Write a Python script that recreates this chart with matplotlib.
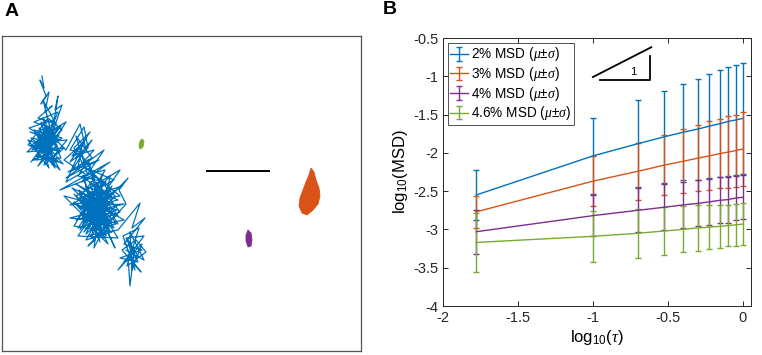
import matplotlib
matplotlib.use("Agg")
import matplotlib.pyplot as plt
import numpy as np

plt.rcParams['font.family'] = ['Liberation Sans', 'DejaVu Sans']
plt.rcParams['mathtext.fontset'] = 'custom'
plt.rcParams['mathtext.it'] = 'Liberation Serif:italic'
plt.rcParams['mathtext.rm'] = 'Liberation Sans'

# ---------------- Panel B data ----------------
log_tau = [-1.778, -1.0, -0.699, -0.523, -0.398, -0.301, -0.222, -0.155, -0.097, -0.046, 0.0]
msd_2 = [-2.55, -2.04, -1.88, -1.79, -1.73, -1.69, -1.65, -1.62, -1.59, -1.57, -1.55]
sd_2 = [0.33, 0.50, 0.57, 0.60, 0.63, 0.66, 0.68, 0.70, 0.71, 0.72, 0.73]
msd_3 = [-2.77, -2.37, -2.24, -2.16, -2.11, -2.07, -2.04, -2.01, -1.99, -1.97, -1.95]
sd_3 = [0.21, 0.33, 0.37, 0.39, 0.42, 0.43, 0.45, 0.45, 0.47, 0.47, 0.48]
msd_4 = [-3.03, -2.82, -2.75, -2.71, -2.68, -2.66, -2.64, -2.62, -2.61, -2.59, -2.58]
sd_4 = [0.29, 0.27, 0.29, 0.30, 0.30, 0.30, 0.30, 0.30, 0.30, 0.29, 0.29]
msd_46 = [-3.17, -3.09, -3.05, -3.02, -3.00, -2.98, -2.97, -2.96, -2.95, -2.94, -2.93]
sd_46 = [0.38, 0.33, 0.32, 0.31, 0.30, 0.30, 0.29, 0.28, 0.27, 0.27, 0.27]
labels = ['2% MSD ($\\mu$±$\\sigma$)', '3% MSD ($\\mu$±$\\sigma$)',
          '4% MSD ($\\mu$±$\\sigma$)', '4.6% MSD ($\\mu$±$\\sigma$)']
colors = ['#0072BD', '#D95319', '#7E2F8E', '#77AC30']

# slope-1 guide triangle
slope_x = [-1.0, -0.61]
slope_y = [-1.01, -0.62]
tri_x = [-0.95, -0.62, -0.62]
tri_y = [-1.045, -1.045, -0.74]

# ---------------- Panel A data (image units) ----------------
blue_top = [(42,76),(44,88),(40,80),(46,96),(41,104),(49,92),(45,112),(52,106),(38,118),(56,124),(43,100),
            (50,128),(34,122),(58,112),(47,138),(30,132),(60,140),(39,128),(54,150),(28,145),(48,118),(62,130),
            (36,156),(57,160),(31,138),(52,142),(44,165),(64,148),(27,152),(49,132),(40,148),(59,135),(35,142),
            (55,168),(46,126),(61,158),(33,160),(50,152),(42,136),(66,122),(38,166),(57,145),(29,128),(53,120),
            (45,155),(63,164),(37,134),(48,160),(58,96),(55,110),(62,105),(50,140),(36,146),(60,170),(44,142),
            (67,140),(52,158),(41,122),(56,136),
            (32,150),(50,125),(37,160),(58,128),(30,146),(46,150),(62,138),(34,130),(53,164),(43,118),(60,152),
            (28,140),(49,168),(39,132),(56,140),(35,150),(47,144),(61,126),(31,162),(54,132),(42,158),(58,162),
            (37,140),(51,136),(44,128)]
blue_bridge = [(66,150),(80,124),(86,150),(70,162),(90,132),(74,148),(84,166),(68,172),(92,158),(76,136),
               (88,176),(64,160),(82,144),(78,168),(94,150),(72,156),(86,138),(66,182),(90,168),(80,152)]
blue_mid = [(70,150),(84,127),(88,148),(76,158),(92,140),(72,170),(99,160),(66,178),(104,150),(82,182),(110,162),
            (60,190),(96,176),(78,200),(114,180),(86,168),(120,196),(70,205),(102,188),(90,222),(117,210),(64,196),
            (98,230),(108,198),(80,214),(122,186),(92,196),(74,226),(112,232),(86,240),(104,208),(94,185),(118,224),
            (79,190),(100,242),(88,206),(124,204),(70,218),(108,222),(96,214),(84,232),(115,196),(91,172),(106,236),
            (76,196),(120,170),(99,200),(83,222),(112,212),(94,248),(102,180),(87,190),(118,238),(78,236),(110,190),
            (96,226),(124,220),(90,200),(105,170),(82,176),(115,248),(100,215),(72,188),(108,205),(92,236),(98,192),
            (88,160),(78,176),(106,182),(84,204),(110,210),(76,220),(100,196),(92,230),(116,216),(82,196),(104,226),
            (94,206),(118,200),(86,186),(98,238),(110,176),(80,208),(106,218),(90,192),(114,228),(74,202),(102,234),
            (96,182),(120,212),(88,224),(108,244),(92,212),(84,178),(112,198),(98,222),(78,228),(104,190),(94,216),
            (86,234),(116,206),
            (76,184),(102,202),(86,214),(112,186),(80,230),(96,198),(108,228),(74,194),(100,222),(90,182),(118,216),
            (84,198),(104,238),(92,204),(114,192),(82,218),(98,186),(110,232),(88,196),(106,210),(78,206),(116,224),
            (94,230),(102,174),(86,222),
            (128,178),(119,190),(126,204),(88,246),(95,240),(90,235)]
blue_low = [(118,230),(140,203),(132,228),(145,218),(124,244),(142,250),(120,258),(138,262),(126,238),(144,236),
            (118,270),(134,252),(130,286),(128,256),(141,272),(122,250),(136,240),(146,252),(127,266),(139,228),
            (123,236),(135,270),(128,240),(138,256),(124,262),(142,244),(132,270),(130,232),(144,260),(126,250)]
orange_x = [311,314,316,319,320,318,313,307,302,299,300,303,306,309]
orange_y = [168,172,180,188,196,204,210,215,213,206,198,190,182,175]
purple_x = [248,251,252,251,248,246,246]
purple_y = [230,233,240,246,247,241,235]
green_x = [142,144,143,140,139,140]
green_y = [139,141,147,149,146,141]
scale_x = [207, 269]
scale_y = [171, 171]

W, H = 762, 355
fig = plt.figure(figsize=(W / 100, H / 100), dpi=100)

# ---------- Panel A ----------
axA = fig.add_axes([2 / W, 1 - 351 / H, 359 / W, 315 / H])
blue_path = blue_top + blue_bridge + blue_mid + blue_low
bx = [p[0] for p in blue_path]
by = [p[1] for p in blue_path]
axA.plot(bx, by, color=colors[0], lw=0.9)
axA.fill(orange_x, orange_y, color=colors[1], lw=0.6)
axA.fill(purple_x, purple_y, color=colors[2], lw=0.6)
axA.fill(green_x, green_y, color=colors[3], lw=0.6)
axA.plot(scale_x, scale_y, color='black', lw=1.4)
axA.set_xlim(2, 361)
axA.set_ylim(351, 36)
axA.set_xticks([])
axA.set_yticks([])
for s in axA.spines.values():
    s.set_color('#555555')
    s.set_linewidth(0.9)
fig.text(12 / W, 1 - 12 / H, 'A', fontsize=14, fontweight='bold', ha='center', va='center')

# ---------- Panel B ----------
axB = fig.add_axes([443 / W, 1 - 306 / H, 308 / W, 268 / H])
series = [(msd_2, sd_2), (msd_3, sd_3), (msd_4, sd_4), (msd_46, sd_46)]
for (m, s), c, lab in zip(series, colors, labels):
    axB.errorbar(log_tau, m, yerr=s, color=c, lw=1.0, elinewidth=1.0,
                 capsize=2.5, capthick=1.0, label=lab)
axB.plot(slope_x, slope_y, color='black', lw=1.3)
axB.plot(tri_x, tri_y, color='black', lw=1.3)
axB.text(-0.73, -0.95, '1', fontsize=8, ha='center', va='center')
axB.set_xlim(-2, 0.055)
axB.set_ylim(-4, -0.5)
axB.set_xticks([-2, -1.5, -1, -0.5, 0])
axB.set_xticklabels(['-2', '-1.5', '-1', '-0.5', '0'])
axB.set_yticks([-4, -3.5, -3, -2.5, -2, -1.5, -1, -0.5])
axB.set_yticklabels(['-4', '-3.5', '-3', '-2.5', '-2', '-1.5', '-1', '-0.5'])
axB.tick_params(direction='in', top=True, right=True, labelsize=10.5, length=3.5,
                width=0.7, colors='#262626', labelcolor='#262626')
for s in axB.spines.values():
    s.set_color('#262626')
    s.set_linewidth(0.7)
axB.set_xlabel('log$_{10}$($\\tau$)', fontsize=12, labelpad=2)
axB.set_ylabel('log$_{10}$(MSD)', fontsize=12, labelpad=2)
leg = axB.legend(loc='upper left', fontsize=9.8, frameon=True, fancybox=False,
                 edgecolor='#262626', borderpad=0.2, labelspacing=0.12,
                 handlelength=1.3, handletextpad=0.2, borderaxespad=0.35)
leg.get_frame().set_linewidth(0.7)
fig.text(390 / W, 1 - 10 / H, 'B', fontsize=14, fontweight='bold', ha='center', va='center')

fig.savefig('out.png', dpi=100)
